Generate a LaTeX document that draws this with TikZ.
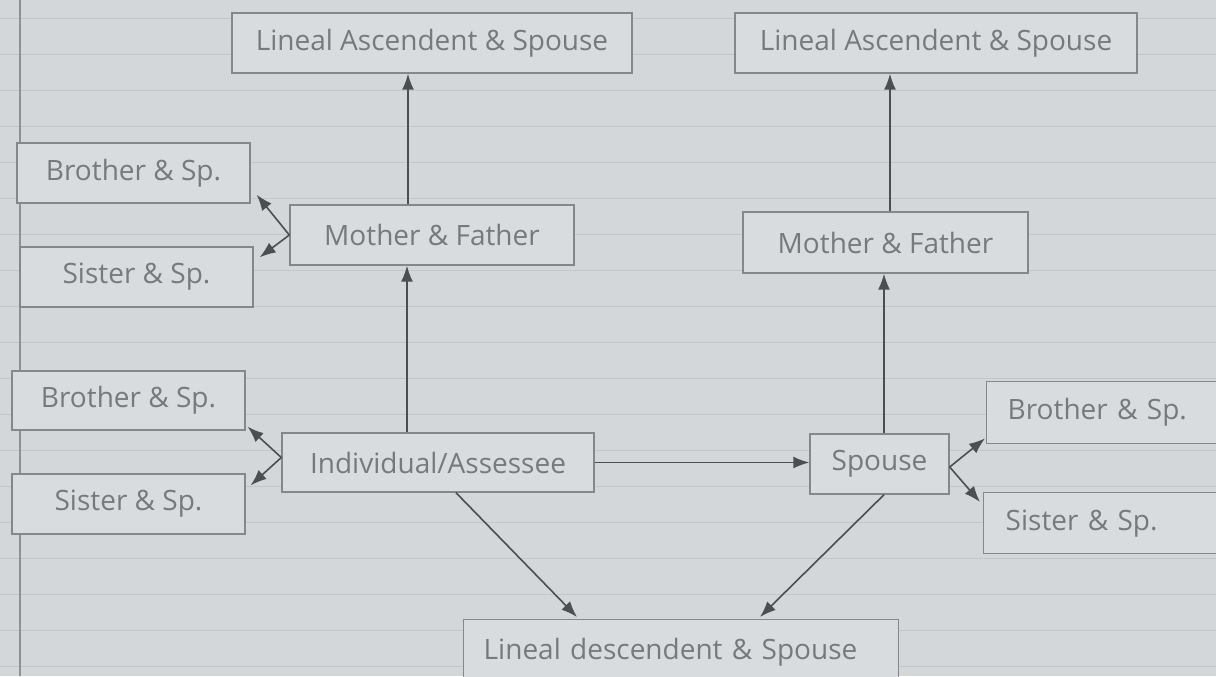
\documentclass[tikz,border=0pt]{standalone}
\usepackage{fontspec}
\setmainfont{Open Sans}
\usetikzlibrary{arrows.meta,calc}
\definecolor{paper}{HTML}{D4D7DA}
\definecolor{boxfill}{HTML}{D9DCDF}
\definecolor{boxline}{HTML}{85878B}
\definecolor{ink}{HTML}{77797D}
\definecolor{arrowc}{HTML}{4C4E52}
\definecolor{ruledc}{HTML}{C4C7CA}
\definecolor{marginc}{HTML}{8E9094}
\begin{document}
\begin{tikzpicture}[x=0.5pt,y=-0.5pt,
  box/.style={draw=boxline, line width=0.7pt, fill=boxfill, text=ink,
    font=\fontsize{14}{16}\selectfont, inner sep=0pt},
  arr/.style={draw=arrowc, line width=0.8pt, -{Latex[length=8pt,width=6pt]}},
  ruled/.style={draw=ruledc, line width=0.5pt},
  marginline/.style={draw=marginc, line width=1pt}]
\useasboundingbox (0,0) rectangle (1216,676);
\clip (0,0) rectangle (1216,676);
\fill[paper] (0,0) rectangle (1216,676);
\foreach \k in {0,...,18} \draw[ruled] (0,18+36*\k) -- (1216,18+36*\k);
\draw[marginline] (20,0) -- (20,676);

% top row
\node[box, minimum width=200pt, minimum height=30pt] (LA1) at (432,43) {Lineal Ascendent \& Spouse};
\node[box, minimum width=201pt, minimum height=30pt] (LA2) at (936,43) {Lineal Ascendent \& Spouse};
% left parents level
\node[box, minimum width=116.5pt, minimum height=30pt] (B1) at (133.5,173) {Brother \& Sp.};
\node[box, minimum width=116.5pt, minimum height=30pt] (S1) at (136.5,277) {Sister \& Sp.};
\node[box, minimum width=142pt, minimum height=30pt] (MF1) at (432,235) {Mother \& Father};
\node[box, minimum width=142.5pt, minimum height=30.5pt] (MF2) at (885.5,242.5) {Mother \& Father};
% individual level
\node[box, minimum width=116.5pt, minimum height=29.5pt] (B2) at (128.5,400.5) {Brother \& Sp.};
\node[box, minimum width=116.5pt, minimum height=30pt] (S2) at (128.5,504) {Sister \& Sp.};
\node[box, minimum width=156pt, minimum height=29.5pt] (IND) at (438,462.5) {Individual/Assessee};
\node[box, minimum width=69.5pt, minimum height=30pt] (SP) at (879.5,464) {Spouse};
\node[box, anchor=north west, minimum height=31pt, text width=111pt, align=left, inner xsep=10.5pt] (B3) at (986,381) {Brother \& Sp.};
\node[box, anchor=north west, minimum height=30.5pt, text width=111pt, align=left, inner xsep=11pt] (S3) at (983,492) {Sister \& Sp.};
% bottom
\node[box, anchor=north west, minimum height=33pt, text width=197.5pt, align=left, inner xsep=10pt] (LD) at (463,619) {Lineal descendent \& Spouse};

% connectors
\draw[arr] ([shift={(-24,0)}]MF1.north) -- ([shift={(-24,0)}]LA1.south);
\draw[arr] ([shift={(-31,0)}]IND.north) -- ([shift={(-31,0)}]IND.north |- MF1.south);
\draw[arr] (MF1.west) -- ([shift={(6,-9)}]B1.south east);
\draw[arr] (MF1.west) -- ([shift={(6,11)}]S1.north east);
\draw[arr] ([shift={(0,-5)}]IND.west) -- ([shift={(2,-4)}]B2.south east);
\draw[arr] ([shift={(0,-5)}]IND.west) -- ([shift={(5,12)}]S2.north east);
\draw[arr] (IND.east) -- (IND.east -| SP.west);
\draw[arr] ([shift={(4.5,0)}]SP.north) -- ([shift={(4.5,0)}]SP.north |- MF2.south);
\draw[arr] ([shift={(4.5,0)}]MF2.north) -- ([shift={(4.5,0)}]MF2.north |- LA2.south);
\draw[arr] ([shift={(0,3)}]SP.east) -- ([shift={(-1,-6)}]B3.south west);
\draw[arr] ([shift={(0,3)}]SP.east) -- ([shift={(-3,10)}]S3.north west);
\draw[arr] ([shift={(18,0)}]IND.south) -- ([shift={(114,-2)}]LD.north west);
\draw[arr] ([shift={(4.5,0)}]SP.south) -- ([shift={(297,-2)}]LD.north west);
\end{tikzpicture}
\end{document}
